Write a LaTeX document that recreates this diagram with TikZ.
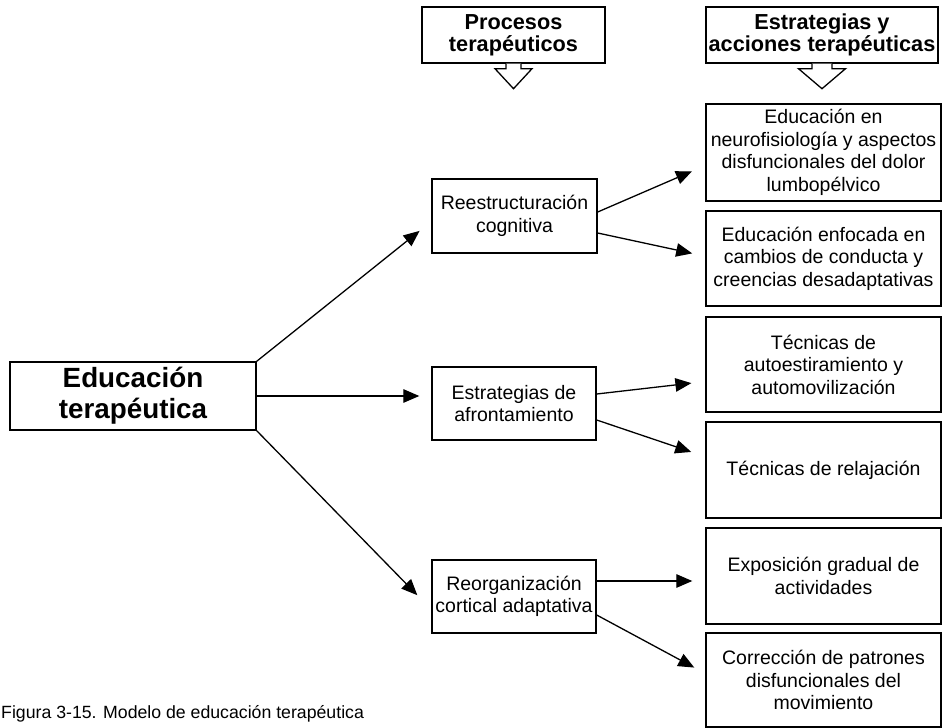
\documentclass[tikz,border=0pt]{standalone}
\usepackage{fontspec}
\setmainfont{Liberation Sans}
\usetikzlibrary{arrows.meta, positioning, calc}

\begin{document}
\begin{tikzpicture}[x=1pt, y=-1pt,
  box/.style={draw, line width=1.4pt, inner sep=0pt, align=center, font=\fontsize{19.5}{22.5}\selectfont},
  hdr/.style={draw, line width=1.4pt, inner sep=0pt, align=center, minimum height=56pt, font=\bfseries\fontsize{21.7}{22}\selectfont},
  conn/.style={line width=1.3pt, -{Triangle[length=16pt,width=13.5pt]}},
  hollow/.style={line width=1.3pt, fill=white, line join=miter}]
\useasboundingbox (0,0) rectangle (943,728);

% Column headers
\node[hdr, minimum width=183pt] (hproc) at (513.5,35) {Procesos\\terapéuticos};
\node[hdr, minimum width=232pt] (hestr) at (822,35) {Estrategias y\\acciones terapéuticas};
\draw[hollow] ([xshift=-7.5pt]hproc.south) -- ++(0,5) -- ++(-11,0) -- ++(18.5,20)
    -- ++(18.5,-20) -- ++(-11,0) -- ++(0,-5);
\draw[hollow] ([xshift=-10pt]hestr.south) -- ++(0,5) -- ++(-13.5,0) -- ++(23.5,20)
    -- ++(23.5,-20) -- ++(-13.5,0) -- ++(0,-5);

% Main box
\node[box, minimum width=246pt, minimum height=68pt, font=\bfseries\fontsize{27.8}{31}\selectfont]
    (edu) at (133,396) {Educación\\terapéutica};

% Therapeutic processes
\node[box, minimum width=165pt, minimum height=74pt] (reest) at (514.5,216) {Reestructuración\\cognitiva};
\node[box, minimum width=164pt, minimum height=73pt] (afront) at (514,403.5) {Estrategias de\\afrontamiento};
\node[box, minimum width=164pt, minimum height=73pt] (reorg) at (514,596.5) {Reorganización\\cortical adaptativa};

% Strategies and actions
\node[box, minimum width=235pt, minimum height=97pt] (r1) at (823.5,152.5)
    {Educación en\\neurofisiología y aspectos\\disfuncionales del dolor\\lumbopélvico};
\node[box, minimum width=235pt, minimum height=95pt] (r2) at (823.5,258.5)
    {Educación enfocada en\\cambios de conducta y\\creencias desadaptativas};
\node[box, minimum width=235pt, minimum height=95pt] (r3) at (823.5,364.5)
    {Técnicas de\\autoestiramiento y\\automovilización};
\node[box, minimum width=235pt, minimum height=96pt] (r4) at (823.5,470) {Técnicas de relajación};
\node[box, minimum width=235pt, minimum height=96pt] (r5) at (823.5,576)
    {Exposición gradual de\\actividades};
\node[box, minimum width=235pt, minimum height=94pt] (r6) at (823.5,680)
    {Corrección de patrones\\disfuncionales del\\movimiento};

% Caption
\node[anchor=base west, inner sep=0pt, font=\fontsize{17.7}{20}\selectfont] (cap) at (1,718)
    {Figura 3-15. Modelo de educación terapéutica};

% Arrows
\draw[conn, shorten >=15pt] (edu.north east) -- ([yshift=-5.5pt]reest.west);
\draw[conn, shorten >=12pt] (edu.east) -- (edu.east -| afront.west);
\draw[conn, shorten >=20pt] (edu.south east) -- ([yshift=-13pt]reorg.west);

\draw[conn, shorten >=14.5pt] ([yshift=4pt]reest.east) -- ([yshift=-13pt]r1.west);
\draw[conn, shorten >=13.4pt] ([yshift=-17pt]reest.east) -- ([yshift=2.3pt]r2.west);
\draw[conn, shorten >=14pt] ([yshift=9.5pt]afront.east) -- ([yshift=-17pt]r3.west);
\draw[conn, shorten >=14.8pt] ([yshift=-16.5pt]afront.east) -- ([yshift=13.3pt]r4.west);
\draw[conn, shorten >=13pt] ([yshift=15.5pt]reorg.east) -- ([yshift=15.5pt]reorg.east -| r5.west);
\draw[conn, shorten >=12.5pt] ([yshift=-18.5pt]reorg.east) -- ([yshift=6.5pt]r6.west);
\end{tikzpicture}
\end{document}
